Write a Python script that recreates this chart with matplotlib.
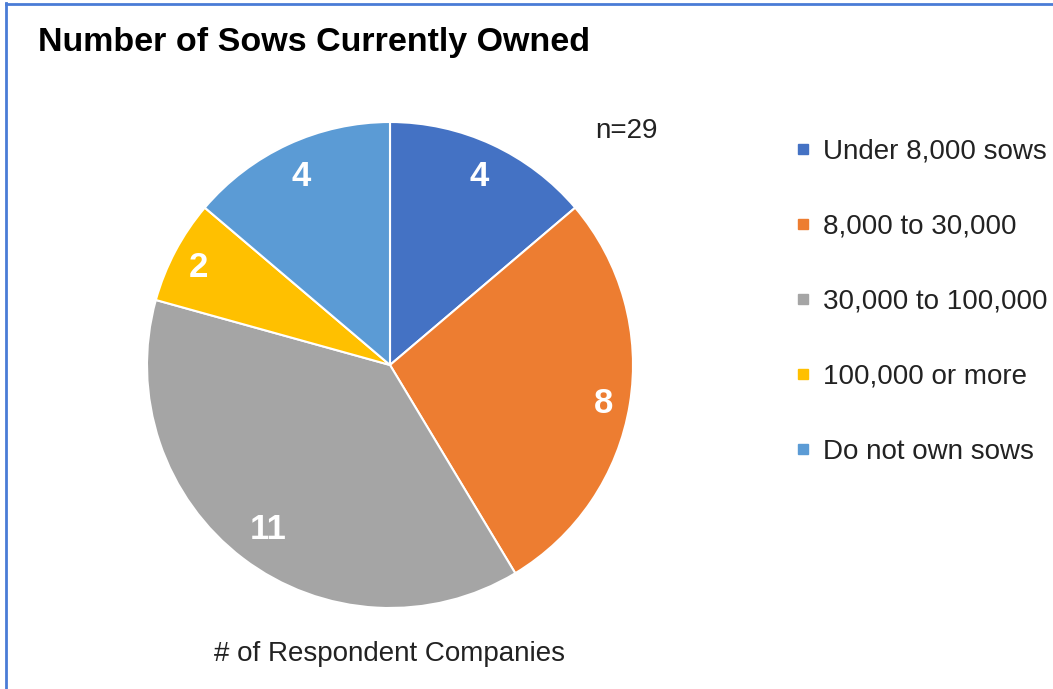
import numpy as np
import matplotlib
matplotlib.use("Agg")
import matplotlib.pyplot as plt
from matplotlib.lines import Line2D

plt.rcParams['font.family'] = ['Liberation Sans', 'DejaVu Sans']

categories = ["Under 8,000 sows", "8,000 to 30,000", "30,000 to 100,000",
              "100,000 or more", "Do not own sows"]
counts = [4, 8, 11, 2, 4]
colors = ["#4472C4", "#ED7D31", "#A5A5A5", "#FFC000", "#5B9BD5"]
# radial position of each value label (fraction of radius)
label_radius = [0.87, 0.89, 0.83, 0.89, 0.87]

W, H = 1053, 689
fig = plt.figure(figsize=(W / 100, H / 100), dpi=100)
fig.patch.set_facecolor("white")

# pie axes: square region in pixel space
cx, cy, r = 390, 365, 243
ax = fig.add_axes([(cx - r) / W, (H - cy - r) / H, 2 * r / W, 2 * r / H])
wedges, _ = ax.pie(counts, colors=colors, startangle=90, counterclock=False,
                   radius=1.0, wedgeprops=dict(edgecolor="white", linewidth=1.5))
ax.set_xlim(-1, 1)
ax.set_ylim(-1, 1)
ax.set_aspect("equal")
ax.axis("off")

for w, val, lr in zip(wedges, counts, label_radius):
    ang = np.deg2rad((w.theta1 + w.theta2) / 2)
    ax.text(lr * np.cos(ang), lr * np.sin(ang), str(val), ha="center",
            va="center_baseline", color="white", fontsize=25, fontweight="bold")

fig.text(38 / W, 1 - 43 / H, "Number of Sows Currently Owned", fontsize=24.5,
         fontweight="bold", ha="left", va="center", color="black")
fig.text(626 / W, 1 - 131 / H, "n=29", fontsize=20, ha="center", va="center",
         color="#222222")
fig.text(389 / W, 1 - 654 / H, "# of Respondent Companies", fontsize=20,
         ha="center", va="center", color="#222222")

handles = [Line2D([], [], linestyle="none", marker="s", markersize=6.5,
                  markerfacecolor=c, markeredgecolor=c) for c in colors]
leg = fig.legend(handles, categories, loc="upper left",
                 bbox_to_anchor=(795 / W, 1 - 139 / H), frameon=False,
                 fontsize=20, labelspacing=1.76, handlelength=0.55,
                 handletextpad=0.45, borderaxespad=0, borderpad=0)
for t in leg.get_texts():
    t.set_color("#222222")

# frame lines along the top and left edges
fig.add_artist(Line2D([5.5 / W, 5.5 / W], [0, 1 - 3 / H], transform=fig.transFigure,
                      color="#4A7CD6", linewidth=2))
fig.add_artist(Line2D([5.5 / W, 1], [1 - 3.5 / H, 1 - 3.5 / H],
                      transform=fig.transFigure, color="#4A7CD6", linewidth=2))

fig.savefig("out.png", dpi=100, facecolor="white")
